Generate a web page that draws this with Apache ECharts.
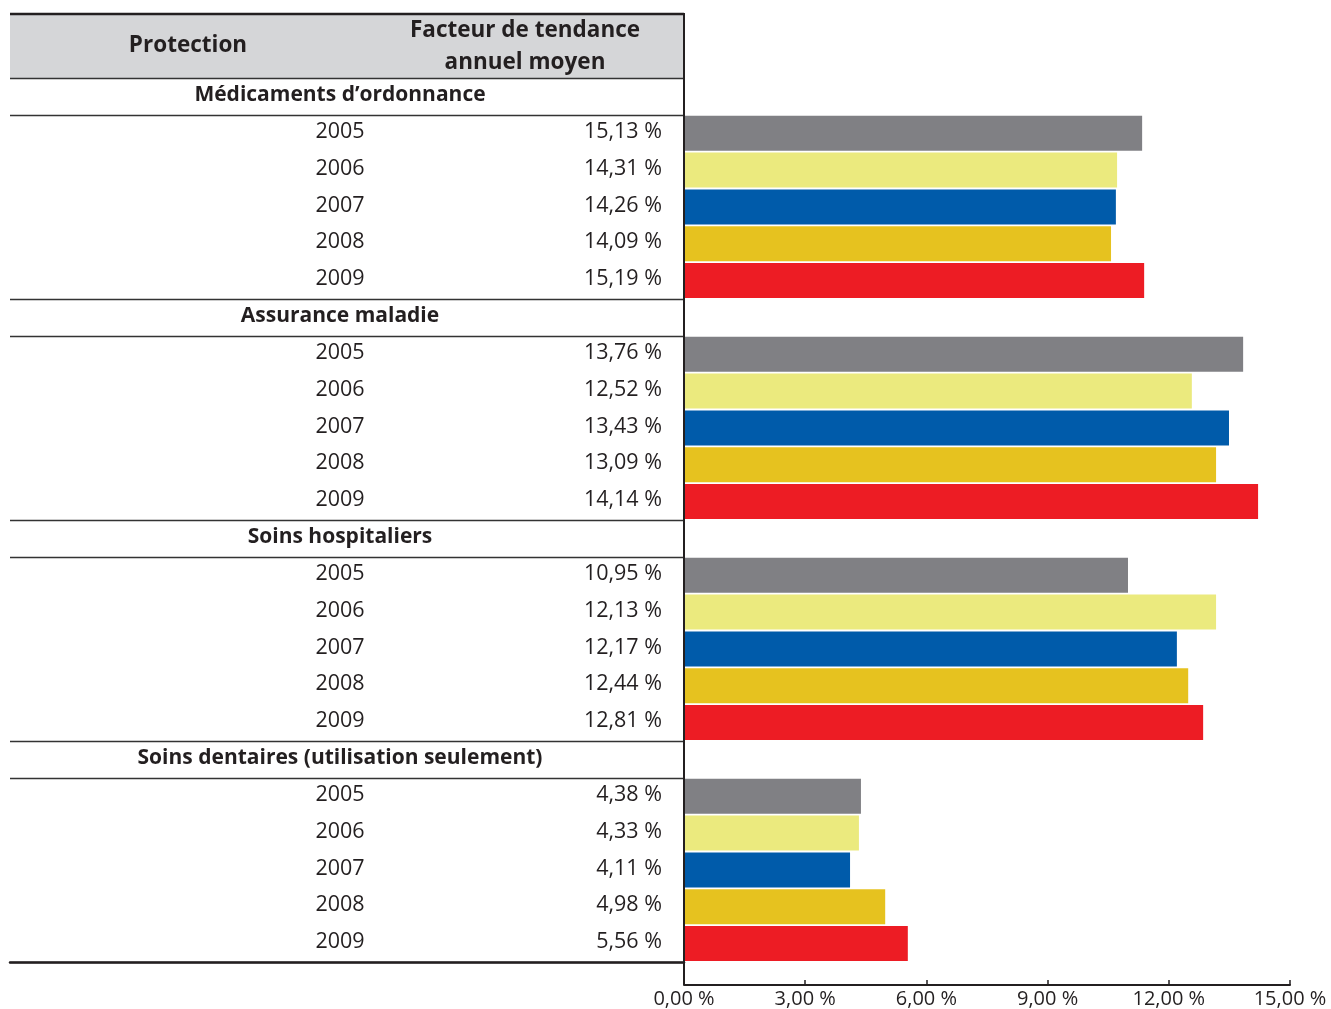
<!DOCTYPE html>
<html><head><meta charset="utf-8">
<script src="https://cdn.jsdelivr.net/npm/echarts@6/dist/echarts.min.js"></script>
<style>html,body{margin:0;padding:0;background:#fff}#c{width:1331px;height:1009px}</style>
</head><body><div id="c"></div>
<script>
// ---- data ----
var groups = ['Médicaments d’ordonnance', 'Assurance maladie', 'Soins hospitaliers', 'Soins dentaires (utilisation seulement)'];
var years = ['2005', '2006', '2007', '2008', '2009'];
// values printed in the table column
var trendMedicaments = [15.13, 14.31, 14.26, 14.09, 15.19];
var trendAssurance   = [13.76, 12.52, 13.43, 13.09, 14.14];
var trendHospitaliers= [10.95, 12.13, 12.17, 12.44, 12.81];
var trendDentaires   = [4.38, 4.33, 4.11, 4.98, 5.56];
// bar lengths as drawn in the picture
var barMedicaments = [11.34, 10.72, 10.69, 10.57, 11.39];
var barAssurance   = [13.84, 12.57, 13.49, 13.17, 14.21];
var barHospitaliers= [10.99, 13.17, 12.20, 12.48, 12.85];
var barDentaires   = [4.38, 4.33, 4.11, 4.98, 5.54];
var xTicks = [0, 3, 6, 9, 12, 15];
var headerProtection = 'Protection';
var headerTrend = ['Facteur de tendance', 'annuel moyen'];
var yearColors = ['#808084', '#ebea7e', '#005baa', '#e6c21f', '#ed1c24'];

// ---- layout ----
var TABLE_LEFT = 10, AXIS_X = 684, PLOT_W = 606, TOP = 78, BOTTOM_Y = 962, HEADER_TOP = 14, XAXIS_Y = 985;
var TEXT = '#231f20', FONT = 'Open Sans';

var trends = [trendMedicaments, trendAssurance, trendHospitaliers, trendDentaires];
var bars = [barMedicaments, barAssurance, barHospitaliers, barDentaires];

var cats = [], rowInfo = [], barData = [];
groups.forEach(function (g, gi) {
  cats.push('G' + gi); rowInfo.push({ group: g }); barData.push('-');
  years.forEach(function (y, yi) {
    cats.push('R' + gi + '_' + yi);
    rowInfo.push({ year: y, trend: trends[gi][yi] });
    barData.push({ value: bars[gi][yi], itemStyle: { color: yearColors[yi] } });
  });
});
function fmt(v) { return v.toFixed(2).replace('.', ',') + ' %'; }

var chart = echarts.init(document.getElementById('c'));
chart.setOption({
  backgroundColor: '#fff',
  animation: false,
  textStyle: { fontFamily: FONT, color: TEXT },
  grid: [
    { left: AXIS_X, width: PLOT_W, top: TOP, height: BOTTOM_Y - TOP },
    { left: TABLE_LEFT, width: AXIS_X - TABLE_LEFT, top: TOP, height: BOTTOM_Y - TOP }
  ],
  xAxis: [
    { type: 'value', gridIndex: 0, min: 0, max: 15, interval: 3, offset: XAXIS_Y - BOTTOM_Y,
      axisLine: { show: true, lineStyle: { color: TEXT, width: 2 } },
      axisTick: { show: true, inside: true, length: 5, lineStyle: { color: TEXT, width: 1.5 } },
      splitLine: { show: false },
      axisLabel: { color: TEXT, fontFamily: FONT, fontSize: 20, margin: 4, formatter: function (v) { return fmt(v); } } },
    { type: 'value', gridIndex: 1, min: 0, max: 1,
      axisLine: { show: true, lineStyle: { color: TEXT, width: 2.5 } },
      axisTick: { show: false }, axisLabel: { show: false }, splitLine: { show: false } }
  ],
  yAxis: [
    { type: 'category', gridIndex: 0, data: cats, inverse: true,
      axisLine: { show: false }, axisTick: { show: false }, splitLine: { show: false },
      axisLabel: {
        margin: 22, interval: 0,
        formatter: function (v, i) {
          var r = rowInfo[i];
          if (r.group) return '{g|' + r.group + '}';
          return '{y|' + r.year + '}{v|' + fmt(r.trend) + '}';
        },
        rich: {
          g: { width: 644, align: 'center', fontWeight: 'bold', fontSize: 21, color: TEXT, fontFamily: FONT, padding: [0, 0, 3, 0] },
          y: { width: 244, align: 'center', fontSize: 21.5, color: TEXT, fontFamily: FONT, padding: [0, 0, 3, 0] },
          v: { width: 200, align: 'right', fontSize: 21.5, color: TEXT, fontFamily: FONT, padding: [0, 0, 3, 0] }
        }
      } },
    { type: 'category', gridIndex: 1, data: cats, inverse: true,
      axisLine: { show: false }, axisTick: { show: false }, axisLabel: { show: false },
      splitLine: { show: true, interval: function (i) { return i % 6 === 0 || i % 6 === 1; },
                   lineStyle: { color: '#333', width: 1.3 } } }
  ],
  graphic: [
    { type: 'rect', z: 0, shape: { x: TABLE_LEFT, y: HEADER_TOP, width: AXIS_X - TABLE_LEFT, height: TOP - HEADER_TOP },
      style: { fill: '#d5d6d8' } },
    { type: 'line', z: 10, shape: { x1: TABLE_LEFT, y1: HEADER_TOP, x2: AXIS_X, y2: HEADER_TOP },
      style: { stroke: TEXT, lineWidth: 2.5 } },
    { type: 'line', z: 10, shape: { x1: AXIS_X, y1: HEADER_TOP - 1, x2: AXIS_X, y2: XAXIS_Y },
      style: { stroke: TEXT, lineWidth: 2 } },
    { type: 'text', z: 10, x: 188, y: 46,
      style: { text: headerProtection, fill: TEXT, font: 'bold 22.5px "Open Sans"', textAlign: 'center', textVerticalAlign: 'middle' } },
    { type: 'text', z: 10, x: 525, y: 47,
      style: { text: headerTrend.join('\n'), fill: TEXT, font: 'bold 22.5px "Open Sans"', lineHeight: 32, textAlign: 'center', textVerticalAlign: 'middle' } }
  ],
  series: [
    { type: 'bar', xAxisIndex: 0, yAxisIndex: 0, data: barData, barCategoryGap: '5%', silent: true }
  ]
});
</script></body></html>
